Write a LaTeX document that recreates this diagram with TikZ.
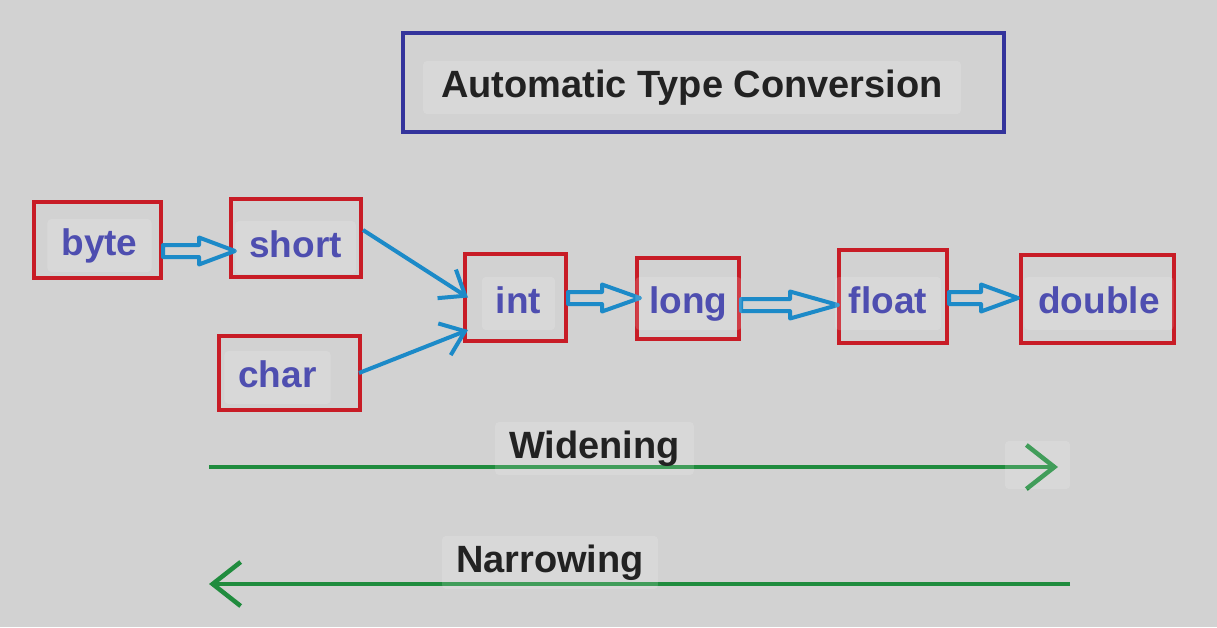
\documentclass[tikz,border=0pt]{standalone}
\usepackage{fontspec}
\setmainfont{Liberation Sans}
\usetikzlibrary{arrows.meta,calc}
\definecolor{bgc}{RGB}{210,210,210}
\definecolor{boxred}{RGB}{200,28,38}
\definecolor{titleblue}{RGB}{52,52,156}
\definecolor{lblblue}{RGB}{78,78,176}
\definecolor{arrowblue}{RGB}{28,138,200}
\definecolor{arrowgreen}{RGB}{32,140,62}
\definecolor{titletext}{RGB}{34,34,34}
\begin{document}
\begin{tikzpicture}[x=1pt,y=-1pt,
  box/.style={draw=boxred, line width=4pt, inner sep=0pt},
  lbl/.style={font=\fontsize{37}{44}\selectfont\bfseries, text=lblblue,
    fill=white, fill opacity=0.15, text opacity=1, rounded corners=4pt,
    inner xsep=14pt, inner ysep=9pt, text height=27pt, text depth=8pt, anchor=base},
  hd/.style={lbl, text=titletext, font=\fontsize{38}{44}\selectfont\bfseries},
  hollowarrow/.style={draw=arrowblue, line width=4pt, line join=round,
    to path={let \p1=(\tikztostart), \p2=(\tikztotarget) in
      (\x1,\y1+6pt) -- (\x2-#1,\y1+6pt) -- (\x2-#1,\y1+13.5pt) -- (\x2,\y1)
      -- (\x2-#1,\y1-13.5pt) -- (\x2-#1,\y1-6pt) -- (\x1,\y1-6pt) -- cycle}},
  link/.style={draw=arrowblue, line width=4pt, -{Straight Barb[length=22pt,width=34pt]}},
  greenarrow/.style={draw=arrowgreen, line width=4.5pt, -{Straight Barb[length=28pt,width=44pt]}}
]
\fill[bgc] (0,0) rectangle (1217,627);
\useasboundingbox (0,0) rectangle (1217,627);

% title
\node[draw=titleblue, line width=4pt, minimum width=601pt, minimum height=99pt, inner sep=0pt] (titlebox) at (703.5,82.5) {};

% boxes
\node[box, minimum width=127pt, minimum height=76pt] (byte) at (97.5,240) {};
\node[box, minimum width=130pt, minimum height=78pt] (short) at (296,238) {};
\node[box, minimum width=141pt, minimum height=74pt] (char) at (289.5,373) {};
\node[box, minimum width=101pt, minimum height=87pt] (int) at (515.5,297.5) {};
\node[box, minimum width=102pt, minimum height=81pt] (long) at (688,298.5) {};
\node[box, minimum width=108pt, minimum height=93pt] (float) at (893,296.5) {};
\node[box, minimum width=153pt, minimum height=88pt] (double) at (1097.5,299) {};

% connectors
\draw[hollowarrow=36pt] ([yshift=-11pt]byte.east) to ([xshift=6pt]short.west);
\draw[hollowarrow=38pt] ([yshift=-0.5pt]int.east) to ([xshift=5pt]long.west);
\draw[hollowarrow=48pt] ([yshift=-6.5pt]long.east) to ([xshift=1pt]float.west);
\draw[hollowarrow=37pt] ([yshift=-1.5pt]float.east) to ([xshift=-1pt]double.west);
\draw[link] ([yshift=8pt]short.east) -- ([xshift=5pt]int.west);
\draw[link] ([xshift=-3pt]char.east) -- ([xshift=5pt,yshift=-32.5pt]int.west);

% widening / narrowing
\coordinate (w1) at (209,467);
\coordinate (w2) at (1058,467);
\coordinate (n1) at (1070,584);
\coordinate (n2) at (209,584);
\draw[greenarrow] (w1) -- (w2);
\draw[greenarrow] (n1) -- (n2);
\fill[white, fill opacity=0.15, rounded corners=4pt] (1005,441) rectangle (1070,489);

% texts
\node[hd, inner xsep=18pt] (titlet) at (692,97) {Automatic Type Conversion};
\node[lbl] (bytet) at (99.5,255) {byte};
\node[lbl] (shortt) at (295.5,257) {short};
\node[lbl] (chart) at (277.5,387) {char};
\node[lbl] (intt) at (518.5,313) {int};
\node[lbl] (longt) at (688.5,313) {long};
\node[lbl] (floatt) at (888,313) {float};
\node[lbl] (doublet) at (1099,313) {double};
\node[hd] (widet) at (594.5,458) {Widening};
\node[hd] (narrowt) at (550,572) {Narrowing};
\end{tikzpicture}
\end{document}
